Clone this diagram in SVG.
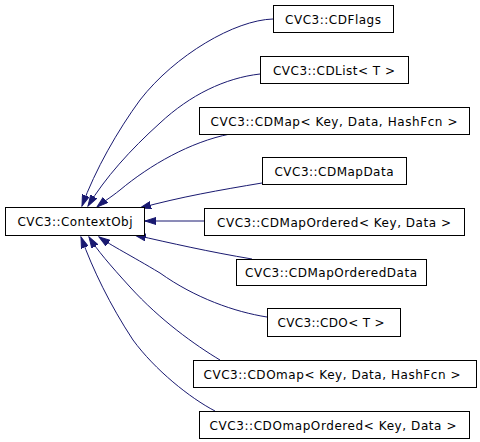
<svg xmlns="http://www.w3.org/2000/svg" width="480" height="442" viewBox="0 0 480 442">
<style>
.n rect{fill:#fff;stroke:#000;stroke-width:1}
.n text{font-family:"DejaVu Sans",sans-serif;font-size:12px;fill:#000;text-anchor:middle}
.e path{fill:none;stroke:#191970;stroke-width:1;marker-end:url(#ah)}
</style>
<defs>
<marker id="ah" markerUnits="userSpaceOnUse" markerWidth="12" markerHeight="8" refX="11" refY="4" orient="auto">
<path d="M0,0.5 L11,4 L0,7.5 z" fill="#191970" stroke="#191970" stroke-width="1"/>
</marker>
</defs>
<rect width="480" height="442" fill="#fff"/>
<g class="e" id="edges">
<path d="M273,19 C235,20 175,55 140,100 C118,130 95,170 82,206"/>
<path d="M260,74 C225,78 190,95 160,123 C130,150 105,178 88,206"/>
<path d="M230,134 C190,142 150,165 120,190 C110,198 103,202 97,207"/>
<path d="M262,183 C220,190 180,197 140,208"/>
<path d="M204,221 L145,221"/>
<path d="M252,259 C210,252 170,243 135,235"/>
<path d="M267,317 C235,312 195,298 160,273 C130,255 112,246 99,237"/>
<path d="M220,360 C195,345 160,320 130,287 C110,265 97,250 89,237"/>
<path d="M215,411 C190,398 155,370 133,340 C110,305 93,270 81,237"/>
</g>
<g class="n" id="ContextObj"><rect x="5.5" y="207.5" width="139" height="28"/><text x="75" y="226" textLength="115">CVC3::ContextObj</text></g>
<g class="n" id="CDFlags"><rect x="273.5" y="5.5" width="120" height="27"/><text x="333" y="24" textLength="96">CVC3::CDFlags</text></g>
<g class="n" id="CDList"><rect x="260.5" y="56.5" width="148" height="27"/><text x="334" y="75" textLength="122">CVC3::CDList&lt; T &gt;</text></g>
<g class="n" id="CDMap"><rect x="199.5" y="107.5" width="270" height="27"/><text x="334" y="126" textLength="247">CVC3::CDMap&lt; Key, Data, HashFcn &gt;</text></g>
<g class="n" id="CDMapData"><rect x="262.5" y="157.5" width="144" height="27"/><text x="334" y="176" textLength="119">CVC3::CDMapData</text></g>
<g class="n" id="CDMapOrdered"><rect x="204.5" y="208.5" width="260" height="27"/><text x="334" y="227" textLength="234">CVC3::CDMapOrdered&lt; Key, Data &gt;</text></g>
<g class="n" id="CDMapOrderedData"><rect x="236.5" y="259.5" width="190" height="26"/><text x="331" y="277" textLength="172">CVC3::CDMapOrderedData</text></g>
<g class="n" id="CDO"><rect x="267.5" y="308.5" width="133" height="28"/><text x="331" y="327" textLength="107">CVC3::CDO&lt; T &gt;</text></g>
<g class="n" id="CDOmap"><rect x="193.5" y="360.5" width="283" height="27"/><text x="332" y="379" textLength="257">CVC3::CDOmap&lt; Key, Data, HashFcn &gt;</text></g>
<g class="n" id="CDOmapOrdered"><rect x="199.5" y="411.5" width="270" height="27"/><text x="333" y="430" textLength="247">CVC3::CDOmapOrdered&lt; Key, Data &gt;</text></g>
</svg>
